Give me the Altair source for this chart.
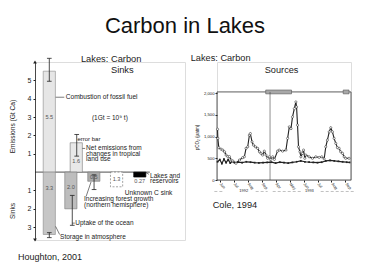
import altair as alt
import pandas as pd

FONT = "Liberation Sans"
INK = "#222222"

# ---------------- Left panel: carbon budget (Houghton, 2001) ----------------
flux_names = ["Combustion of fossil fuel", "Storage in atmosphere",
              "Net emissions from tropical land use", "Uptake of the ocean",
              "Increasing forest growth", "Unknown C sink", "Lakes and reservoirs"]
flux_values = [5.5, -3.4, 1.6, -2.0, -0.5, -0.8, -0.27]
flux_labels = ["5.5", "3.3", "1.6", "2.0", "0.5", "1.3", "0.27"]
flux_slots = [0.61, 0.61, 1.76, 1.53, 2.51, 3.48, 4.47]

err_slots = [0.61, 0.61, 1.78, 1.59, 2.52]
err_low = [4.95, -3.3, 0.87, -1.27, -0.15]
err_high = [6.2, -3.57, 2.05, -2.9, -0.95]

left_y_ticks = [-3, -2, -1, 1, 2, 3, 4, 5]

# annotation texts of the left panel (left aligned)
left_texts = ["Lakes: Carbon", "Sinks", "Combustion of fossil fuel", "(1Gt = 10\u2079 t)",
              "error bar", "Net emissions from", "changes in tropical", "land use",
              "Lakes and", "reservoirs", "Unknown C sink", "Increasing forest growth",
              "(northern hemisphere)", "Uptake of the ocean", "Storage in atmosphere",
              "Houghton, 2001"]
left_text_x = [1.96, 3.24, 1.31, 2.43, 1.81, 2.18, 2.18, 2.18, 4.91, 4.91, 3.83, 2.09, 2.09, 1.72, 1.07, -0.73]
left_text_y = [6.14, 5.57, 4.08, 2.94, 1.78, 1.29, 0.99, 0.69, -0.19, -0.49, -1.15, -1.49, -1.79, -2.78, -3.51, -4.64]
left_text_fs = [9.3, 9.3, 6.6, 6.5, 6.0, 6.5, 6.5, 6.5, 6.5, 6.5, 6.6, 6.5, 6.5, 6.5, 6.5, 9.0]

axis_titles = ["Emissions  (Gt Ca)", "Sinks"]
axis_title_y = [2.48, -2.12]

# leader lines
lead_x1 = [0.88, 2.02, 2.39, 1.59, 0.88, 4.72]
lead_x2 = [1.25, 2.14, 2.18, 1.70, 1.05, 4.86]
lead_y1 = [4.08, 1.29, -0.54, -2.78, -2.96, -0.02]
lead_y2 = [4.08, 1.29, -1.33, -2.78, -3.40, -0.12]

# ---------------- Right panel: pCO2 series (Cole, 1994) ----------------
t_upper = [0.84, 0.86, 0.93, 1.09, 1.21, 1.34, 1.45, 1.57, 1.69, 1.81, 1.93, 2.16, 2.41, 2.64,
           2.76, 2.88, 3.00, 3.12, 3.19, 3.31, 3.41, 3.55, 3.71, 3.84, 3.95, 4.07, 4.19, 4.31,
           4.43, 4.55, 4.66, 4.79, 4.91, 5.14, 5.26, 5.50, 5.74, 5.86, 5.98, 6.10, 6.21, 6.34,
           6.45, 6.50, 6.57, 6.64, 6.74, 6.81, 6.93, 7.00, 7.09, 7.16, 7.40, 7.64, 7.88, 8.12,
           8.31, 8.48, 8.59, 8.71, 8.84, 8.95, 9.07, 9.19, 9.31, 9.43, 9.55, 9.66, 9.79, 9.91,
           10.02, 10.26]
v_upper = [1170, 960, 745, 710, 690, 650, 575, 540, 540, 460, 440, 385, 460, 515,
           535, 730, 765, 1035, 1070, 880, 805, 765, 730, 650, 615, 575, 665, 575,
           500, 535, 475, 535, 475, 665, 690, 665, 690, 960, 1225, 1185, 1455, 1645,
           1800, 1685, 1265, 765, 650, 535, 615, 690, 500, 575, 535, 500, 535, 520,
           535, 485, 765, 920, 1110, 1205, 1110, 960, 845, 745, 730, 650, 615, 535,
           500, 500]

t_lower = [0.84, 1.0, 1.15, 1.3, 1.45, 1.6, 1.75, 1.9, 2.05, 2.3, 2.6, 2.9, 3.2, 3.5, 3.8,
           4.1, 4.4, 4.7, 5.0, 5.3, 5.6, 5.9, 6.2, 6.5, 6.8, 7.1, 7.4, 7.7, 8.0, 8.3, 8.6,
           8.9, 9.2, 9.5, 9.8, 10.1, 10.3]
v_lower = [420, 470, 380, 480, 400, 470, 390, 430, 400, 410, 400, 420, 410, 400, 395,
           400, 405, 410, 390, 410, 400, 390, 405, 420, 440, 420, 410, 405, 400, 410, 440,
           450, 440, 430, 420, 410, 405]

month_ticks = [1, 2, 3, 4, 5, 6, 7, 8, 9, 10]
month_labels = ["Jun", "Jul", "Aug", "Sep", "Apr", "May", "Jun", "Jul", "Aug", "Sep"]
right_y_ticks = [0, 500, 1000, 1500, 2000]

ice_start = [4.29, 9.84]
ice_end = [6.14, 10.26]
year_break = [4.6]

year_names = ["1992", "1993"]
year_center = [2.71, 7.42]
year_dash_x1 = [0.61, 3.57, 4.79, 8.23]
year_dash_x2 = [1.20, 4.43, 6.94, 10.74]

right_texts = ["Lakes: Carbon", "Sources", "Cole, 1994"]
right_text_x = [-1.08, 4.22, 0.49]
right_text_y = [2801, 2540, -572]

# ---------------- scales / axes ----------------
LX = alt.Scale(domain=[0, 6.4], nice=False, zero=False)
LY = alt.Scale(domain=[-3.7, 6.0], nice=False, zero=False)
LAXIS = alt.Axis(values=left_y_ticks, labelExpr="abs(datum.value)", title=None, grid=False,
                 domainColor=INK, tickColor=INK, tickSize=2, labelFontSize=7, labelColor=INK,
                 labelPadding=2, domainWidth=0.8, labelFont=FONT)


def lx(f):
    return alt.X(f, type="quantitative", scale=LX, axis=None)


def lx2(f):
    return alt.X2(f)


def ly(f):
    return alt.Y(f, type="quantitative", scale=LY, axis=LAXIS)


RX = alt.Scale(domain=[0.8, 10.4], nice=False, zero=False)
RY = alt.Scale(domain=[0, 2720], nice=False, zero=False)
label_js = "[" + ",".join("'%s'" % m for m in month_labels) + "]"
RXAXIS = alt.Axis(values=month_ticks, labelExpr=label_js + "[datum.value-1]", title=None,
                  grid=False, domain=False, tickSize=2, tickColor=INK, labelFontSize=4,
                  labelAngle=50, labelAlign="left", labelBaseline="middle", labelPadding=1,
                  labelColor=INK, labelFont=FONT)
RYAXIS = alt.Axis(values=right_y_ticks, title=None, grid=False, domain=False, tickSize=2,
                  tickColor=INK, labelFontSize=4.2, labelPadding=1, labelColor=INK,
                  labelFont=FONT)


def rx(f):
    return alt.X(f, type="quantitative", scale=RX, axis=RXAXIS)


def ry(f):
    return alt.Y(f, type="quantitative", scale=RY, axis=RYAXIS)


# ---------------- left panel layers ----------------
bars_df = pd.DataFrame({"name": flux_names, "value": flux_values, "label": flux_labels,
                        "slot": flux_slots})
bars_base = alt.Chart(bars_df).transform_calculate(
    x1="datum.slot - 0.26", x2="datum.slot + 0.26", zero="0")

fill_colors = ["#e6e6e6", "#c6c6c6", "#e8e8e8", "#bdbdbd", "#acacac", "#ffffff", "#000000"]
stroke_colors = ["#888888", "#888888", "#777777", "#777777", "#777777", "#777777", "#000000"]

solid_bars = bars_base.transform_filter("datum.name != 'Unknown C sink'").mark_bar(
    strokeWidth=0.6).encode(
    x=lx("x1:Q"), x2=lx2("x2:Q"), y=ly("value:Q"), y2=alt.Y2("zero:Q"),
    fill=alt.Fill("name:N", scale=alt.Scale(domain=flux_names, range=fill_colors), legend=None),
    stroke=alt.Stroke("name:N", scale=alt.Scale(domain=flux_names, range=stroke_colors), legend=None),
)
dashed_bar = bars_base.transform_filter("datum.name == 'Unknown C sink'").mark_bar(
    fill="#ffffff", stroke="#666666", strokeWidth=0.6, strokeDash=[2, 1.5]).encode(
    x=lx("x1:Q"), x2=lx2("x2:Q"), y=ly("value:Q"), y2=alt.Y2("zero:Q"))

label_y = [2.98, -0.89, 0.58, -0.82, -0.24, -0.35, -0.46]
lab_df = pd.DataFrame({"label": flux_labels, "slot": flux_slots, "ly": label_y})
bar_labels = alt.Chart(lab_df).mark_text(fontSize=5.6, color="#555555", font=FONT,
                                         align="center", baseline="middle").encode(
    x=lx("slot:Q"), y=ly("ly:Q"), text="label:N")

err_df = pd.DataFrame({"slot": err_slots, "lo": err_low, "hi": err_high})
err_base = alt.Chart(err_df).transform_calculate(c1="datum.slot - 0.1", c2="datum.slot + 0.1")
err_rule = err_base.mark_rule(color=INK, strokeWidth=0.8).encode(
    x=lx("slot:Q"), y=ly("lo:Q"), y2=alt.Y2("hi:Q"))
err_cap_lo = err_base.mark_rule(color=INK, strokeWidth=0.8).encode(
    x=lx("c1:Q"), x2=lx2("c2:Q"), y=ly("lo:Q"))
err_cap_hi = err_base.mark_rule(color=INK, strokeWidth=0.8).encode(
    x=lx("c1:Q"), x2=lx2("c2:Q"), y=ly("hi:Q"))

zero_df = pd.DataFrame({"a": [0.0], "b": [4.9], "y": [0.0]})
zero_line = alt.Chart(zero_df).mark_rule(color=INK, strokeWidth=0.8).encode(
    x=lx("a:Q"), x2=lx2("b:Q"), y=ly("y:Q"))

arrow_df = pd.DataFrame({"x": [0.0, 0.0], "y": [6.0, -3.7], "s": ["triangle-up", "triangle-down"]})
arrows = alt.Chart(arrow_df).mark_point(filled=True, color=INK, size=14, opacity=1).encode(
    x=lx("x:Q"), y=ly("y:Q"),
    shape=alt.Shape("s:N", scale=alt.Scale(domain=["triangle-up", "triangle-down"],
                                           range=["triangle-up", "triangle-down"]), legend=None))

lead_df = pd.DataFrame({"x1": lead_x1, "x2": lead_x2, "y1": lead_y1, "y2": lead_y2})
leaders = alt.Chart(lead_df).mark_rule(color=INK, strokeWidth=0.6).encode(
    x=lx("x1:Q"), x2=lx2("x2:Q"), y=ly("y1:Q"), y2=alt.Y2("y2:Q"))

ltext_df = pd.DataFrame({"t": left_texts, "x": left_text_x, "y": left_text_y, "fs": left_text_fs})
left_ann = alt.Chart(ltext_df).mark_text(align="left", baseline="middle", color=INK,
                                         font=FONT).encode(
    x=lx("x:Q"), y=ly("y:Q"), text="t:N", size=alt.Size("fs:Q", scale=None))

atitle_df = pd.DataFrame({"t": axis_titles, "y": axis_title_y, "x": [-0.94, -0.94]})
left_axis_titles = alt.Chart(atitle_df).mark_text(align="center", baseline="middle", angle=270,
                                                  fontSize=6.6, color=INK, font=FONT).encode(
    x=lx("x:Q"), y=ly("y:Q"), text="t:N")

left = alt.layer(zero_line, solid_bars, dashed_bar, err_rule, err_cap_lo, err_cap_hi,
                 bar_labels, leaders, left_ann, left_axis_titles, arrows).properties(
    width=150, height=178)

# ---------------- right panel layers ----------------
frame_df = pd.DataFrame({"a": [0.8], "b": [10.4], "lo": [0], "hi": [2030]})
frame = alt.Chart(frame_df).mark_rect(fillOpacity=0, stroke="#333333", strokeWidth=0.8).encode(
    x=rx("a:Q"), x2=alt.X2("b:Q"), y=ry("lo:Q"), y2=alt.Y2("hi:Q"))

ice_df = pd.DataFrame({"a": ice_start, "b": ice_end})
ice = alt.Chart(ice_df).transform_calculate(lo="1985", hi="2075").mark_rect(
    fill="#a8a8a8", stroke="#444444", strokeWidth=0.5).encode(
    x=rx("a:Q"), x2=alt.X2("b:Q"), y=ry("lo:Q"), y2=alt.Y2("hi:Q"))

brk_df = pd.DataFrame({"t": year_break, "lo": [0], "hi": [2030]})
brk = alt.Chart(brk_df).mark_rule(color="#444444", strokeWidth=0.6).encode(
    x=rx("t:Q"), y=ry("lo:Q"), y2=alt.Y2("hi:Q"))

up_df = pd.DataFrame({"t": t_upper, "v": v_upper})
lo_df = pd.DataFrame({"t": t_lower, "v": v_lower})
up_line = alt.Chart(up_df).mark_line(color=INK, strokeWidth=1.1).encode(x=rx("t:Q"), y=ry("v:Q"))
up_pts = alt.Chart(up_df).mark_point(shape="circle", size=5, filled=True, fill="#ffffff",
                                     stroke=INK, strokeWidth=0.5, opacity=1).encode(
    x=rx("t:Q"), y=ry("v:Q"))
lo_line = alt.Chart(lo_df).mark_line(color=INK, strokeWidth=1.2).encode(x=rx("t:Q"), y=ry("v:Q"))
lo_pts = alt.Chart(lo_df).mark_point(shape="square", size=3, filled=True, color=INK,
                                     opacity=1).encode(x=rx("t:Q"), y=ry("v:Q"))

dash_df = pd.DataFrame({"a": year_dash_x1, "b": year_dash_x2})
year_dash = alt.Chart(dash_df).transform_calculate(y="-265").mark_rule(
    color="#999999", strokeWidth=0.6, strokeDash=[3, 2]).encode(
    x=rx("a:Q"), x2=alt.X2("b:Q"), y=ry("y:Q"))

yr_df = pd.DataFrame({"t": year_names, "x": year_center})
year_text = alt.Chart(yr_df).transform_calculate(y="-265").mark_text(
    fontSize=4, color=INK, font=FONT, align="center", baseline="middle").encode(
    x=rx("x:Q"), y=ry("y:Q"), text="t:N")

rtext_df = pd.DataFrame({"t": right_texts, "x": right_text_x, "y": right_text_y})
right_ann = alt.Chart(rtext_df).mark_text(align="left", baseline="middle", color=INK,
                                          font=FONT, fontSize=9.2).encode(
    x=rx("x:Q"), y=ry("y:Q"), text="t:N")

ytitle_df = pd.DataFrame({"t": ["pCO\u2082 (\u03bcatm)"], "x": [-0.58], "y": [980]})
right_ytitle = alt.Chart(ytitle_df).mark_text(align="center", baseline="middle", angle=270,
                                              fontSize=4.5, color=INK, font=FONT).encode(
    x=rx("x:Q"), y=ry("y:Q"), text="t:N")

right = alt.layer(frame, ice, brk, lo_line, lo_pts, up_line, up_pts, year_dash, year_text,
                  right_ann, right_ytitle).properties(width=134, height=118)

chart = alt.hconcat(left, right, spacing=32, bounds="flush").properties(
    title=alt.TitleParams("Carbon in Lakes", fontSize=22, font=FONT, fontWeight="normal",
                          color="#111111", anchor="middle", offset=16, dx=2),
    padding={"left": 9, "top": 14, "right": 0, "bottom": 0},
).configure_view(strokeWidth=0).configure(font=FONT, background="#ffffff")

chart.save("out.html", embed_options={"renderer": "svg", "actions": False})
